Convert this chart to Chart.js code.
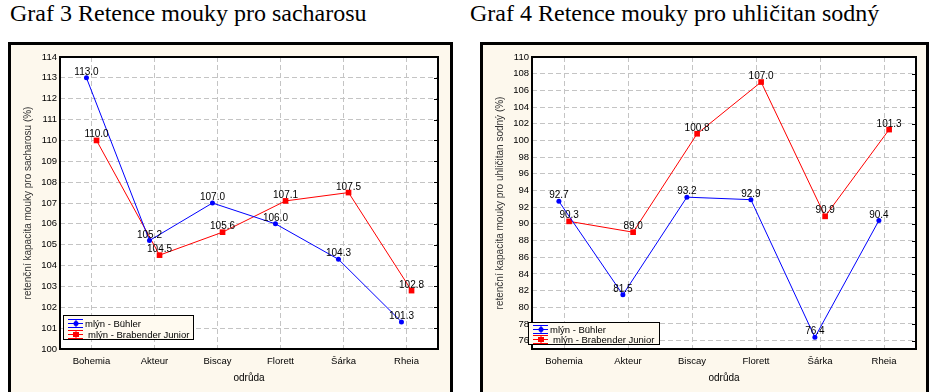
<!DOCTYPE html>
<html>
<head>
<meta charset="utf-8">
<script src="https://cdn.jsdelivr.net/npm/chart.js@4.4.0/dist/chart.umd.min.js"></script>
<style>
  body { margin: 0; width: 937px; height: 392px; background: #fff; overflow: hidden; position: relative; }
  .nadpis { position: absolute; top: 0px; font: 24px "Liberation Serif", "Times New Roman", serif; color: #000; white-space: nowrap; }
  .ramec { position: absolute; top: 42px; height: 360px; border: 3px solid #000; border-bottom: none; background: #fdf8ed; box-sizing: border-box; }
  canvas { position: absolute; top: 45px; }
</style>
</head>
<body>
<div class="nadpis" style="left:10px">Graf 3 Retence mouky pro sacharosu</div>
<div class="nadpis" style="left:470px">Graf 4 Retence mouky pro uhličitan sodný</div>
<div class="ramec" style="left:8px; width:445px"></div>
<div class="ramec" style="left:480px; width:449px"></div>
<canvas id="graf3" width="439" height="347" style="left:11px"></canvas>
<canvas id="graf4" width="443" height="347" style="left:483px"></canvas>
<script>
// odrudy
var odrudy = ['Bohemia', 'Akteur', 'Biscay', 'Florett', 'Šárka', 'Rheia'];
var nazvyMlynu = ['mlýn - Bühler', 'mlýn - Brabender Junior'];

// Graf 3 - sacharosa
var sacharosaBuhler = [113.0, 105.2, 107.0, 106.0, 104.3, 101.3];
var sacharosaBrabender = [110.0, 104.5, 105.6, 107.1, 107.5, 102.8];
var sacharosaTicks = [100, 101, 102, 103, 104, 105, 106, 107, 108, 109, 110, 111, 112, 113, 114];

// Graf 4 - uhlicitan sodny
var sodaBuhler = [92.7, 81.5, 93.2, 92.9, 76.4, 90.4];
var sodaBrabender = [90.3, 89.0, 100.8, 107.0, 90.9, 101.3];
var sodaTicks = [76, 78, 80, 82, 84, 86, 88, 90, 92, 94, 96, 98, 100, 102, 104, 106, 108, 110];

Chart.defaults.font.family = '"Liberation Sans", Arial, sans-serif';
Chart.defaults.color = '#000';

var MODRA = '#0000ff';
var CERVENA = '#ff0000';
var POSUN = 0.08; // body obou mlynu jsou kousek od sebe

function body(hodnoty, posun) {
  return hodnoty.map(function (v, i) { return { x: i + posun, y: v }; });
}

function symbolLegendy(ctx, x, y, w, barva, tvar) {
  ctx.strokeStyle = barva;
  ctx.fillStyle = barva;
  ctx.lineWidth = 1;
  ctx.beginPath();
  ctx.moveTo(x, y - 3.5); ctx.lineTo(x + w, y - 3.5);
  ctx.moveTo(x, y + 0.5); ctx.lineTo(x + w, y + 0.5);
  ctx.moveTo(x, y + 4.5); ctx.lineTo(x + w, y + 4.5);
  ctx.moveTo(x + w / 2 + 0.5, y - 4); ctx.lineTo(x + w / 2 + 0.5, y + 5);
  ctx.stroke();
  if (tvar === 'rect') {
    ctx.fillRect(x + w / 2 - 2.5, y - 2, 6, 5);
  } else {
    ctx.beginPath();
    ctx.arc(x + w / 2 + 0.5, y + 0.5, 2.5, 0, Math.PI * 2);
    ctx.fill();
  }
}

var ramecPlugin = {
  id: 'ramec',
  beforeDraw: function (chart) {
    var a = chart.chartArea, ctx = chart.ctx;
    ctx.save();
    ctx.fillStyle = '#ffffff';
    ctx.fillRect(a.left, a.top, a.right - a.left, a.bottom - a.top);
    ctx.restore();
  },
  afterDraw: function (chart, args, opts) {
    var a = chart.chartArea, ctx = chart.ctx;
    ctx.save();
    // ramecek kolem grafu
    ctx.strokeStyle = '#000';
    ctx.lineWidth = 2;
    ctx.strokeRect(a.left, a.top, a.right - a.left, a.bottom - a.top);
    // ticky na prave strane
    ctx.lineWidth = 1;
    ctx.beginPath();
    chart.scales.y.ticks.forEach(function (t) {
      var yy = Math.round(chart.scales.y.getPixelForValue(t.value)) + 0.5;
      ctx.moveTo(a.right - 4, yy);
      ctx.lineTo(a.right, yy);
    });
    ctx.stroke();

    // popisky hodnot
    ctx.font = '10px "Liberation Sans", Arial, sans-serif';
    ctx.fillStyle = '#000';
    ctx.textAlign = 'center';
    ctx.textBaseline = 'alphabetic';
    chart.data.datasets.forEach(function (ds, di) {
      chart.getDatasetMeta(di).data.forEach(function (pt, i) {
        ctx.fillText(ds.data[i].y.toFixed(1), pt.x, pt.y - 3);
      });
    });

    // legenda
    var L = opts.legenda;
    ctx.fillStyle = '#fffaf0';
    ctx.fillRect(L.x, L.y, L.w, L.h);
    ctx.strokeStyle = '#000';
    ctx.lineWidth = 1;
    ctx.strokeRect(L.x + 0.5, L.y + 0.5, L.w - 1, L.h - 1);
    ctx.font = '9.5px "Liberation Sans", Arial, sans-serif';
    ctx.textAlign = 'left';
    ctx.textBaseline = 'middle';
    chart.data.datasets.forEach(function (ds, di) {
      var yy = L.y + L.prvni + di * L.radek;
      symbolLegendy(ctx, L.x + 5, yy, 15, ds.borderColor, ds.pointStyle);
      ctx.fillStyle = '#000';
      ctx.fillText(ds.label, L.x + 22 + di * 3, yy + 1);
    });
    ctx.restore();
  }
};

function udelejGraf(id, buhler, brabender, ticks, yMin, yMax, titulekY, pravyOkraj, legenda) {
  var ctx = document.getElementById(id).getContext('2d');
  return new Chart(ctx, {
    type: 'line',
    data: {
      datasets: [{
        label: nazvyMlynu[0],
        data: body(buhler, -POSUN),
        borderColor: MODRA,
        backgroundColor: MODRA,
        borderWidth: 1,
        pointStyle: 'circle',
        pointRadius: 2.5,
        pointBorderWidth: 0,
        tension: 0
      }, {
        label: nazvyMlynu[1],
        data: body(brabender, POSUN),
        borderColor: CERVENA,
        backgroundColor: CERVENA,
        borderWidth: 1,
        pointStyle: 'rect',
        pointRadius: 4,
        pointBorderWidth: 0,
        tension: 0
      }]
    },
    options: {
      responsive: false,
      animation: false,
      devicePixelRatio: 1,
      layout: { padding: { left: 0, top: 12, right: pravyOkraj, bottom: 0 } },
      plugins: {
        legend: { display: false },
        tooltip: { enabled: false },
        ramec: { legenda: legenda }
      },
      scales: {
        x: {
          type: 'linear',
          min: -0.5,
          max: 5.5,
          afterBuildTicks: function (s) { s.ticks = odrudy.map(function (o, i) { return { value: i }; }); },
          afterFit: function (s) { s.height = 43; },
          ticks: {
            padding: 7,
            font: { size: 9.5 },
            callback: function (v) { return odrudy[Math.round(v)]; }
          },
          grid: { color: '#c4c4c4', drawTicks: false },
          border: { display: false, dash: [5, 3] },
          title: { display: true, text: 'odrůda', font: { size: 10 }, padding: { top: 8, bottom: 8 } }
        },
        y: {
          min: yMin,
          max: yMax,
          afterBuildTicks: function (s) { s.ticks = ticks.map(function (v) { return { value: v }; }); },
          afterFit: function (s) { s.width = 49; },
          ticks: { padding: 3, font: { size: 9.5 } },
          grid: { color: '#c4c4c4', drawTicks: false },
          border: { display: false, dash: [5, 3] },
          title: { display: true, text: titulekY, color: '#333', font: { size: 10 }, padding: { top: 11, bottom: 11 } }
        }
      }
    },
    plugins: [ramecPlugin]
  });
}

udelejGraf('graf3', sacharosaBuhler, sacharosaBrabender, sacharosaTicks, 100, 114,
  'retenční kapacita mouky pro sacharosu (%)', 12,
  { x: 52, y: 270, w: 131, h: 25, prvni: 8, radek: 11 });

udelejGraf('graf4', sodaBuhler, sodaBrabender, sodaTicks, 75, 110,
  'retenční kapacita mouky pro uhličitan sodný (%)', 10,
  { x: 45, y: 277, w: 132, h: 23, prvni: 7, radek: 10 });
</script>
</body>
</html>
